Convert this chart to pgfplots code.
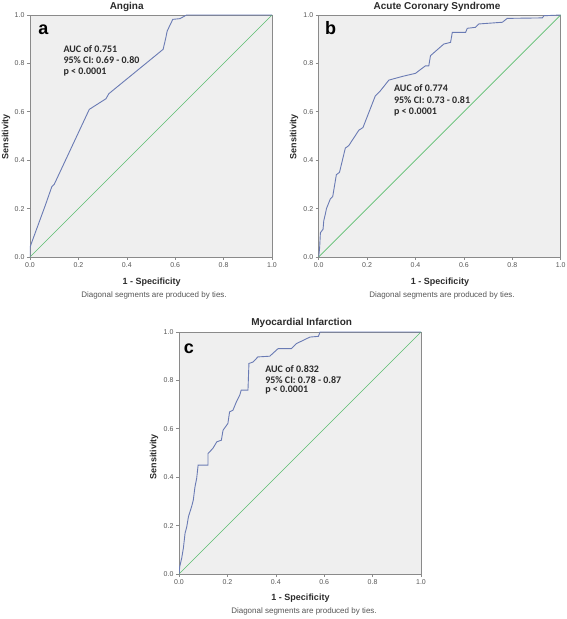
\documentclass[border=0pt]{standalone}
\usepackage{fontspec}
\setmainfont{Liberation Sans}
\newfontfamily\annfont{Carlito}
\usepackage{pgfplots}
\pgfplotsset{compat=1.18}
\definecolor{roc}{HTML}{6A7BB4}
\definecolor{diagc}{HTML}{5BBD6E}
\definecolor{framec}{HTML}{8A8A8A}
\definecolor{bgc}{HTML}{EFEFEF}
\definecolor{txt}{HTML}{2A2A2A}
\pgfplotsset{rocaxis/.style={
  scale only axis, width=242pt, height=242pt, anchor=south west,
  xmin=0, xmax=1, ymin=0, ymax=1,
  xtick={0,0.2,0.4,0.6,0.8,1}, ytick={0,0.2,0.4,0.6,0.8,1},
  xtick pos=left, ytick pos=left,
  tick align=outside, major tick length=3pt,
  tick style={framec, line width=0.6pt},
  axis line style={framec, line width=0.9pt},
  axis background/.style={fill=bgc},
  /pgf/number format/assume math mode=true,
  /pgf/number format/fixed, /pgf/number format/fixed zerofill, /pgf/number format/precision=1,
  tick label style={font=\fontsize{7}{8}\selectfont, text=txt!80},
  xticklabel style={yshift=1pt},
  yticklabel style={xshift=1pt},
}}
\tikzset{ann/.style={anchor=west, font=\annfont\bfseries\fontsize{10}{12}\selectfont, text=txt},
  xlab/.style={font=\bfseries\fontsize{9}{11}\selectfont, text=txt},
  note/.style={font=\fontsize{8}{10}\selectfont, text=txt!80},
  ttl/.style={font=\bfseries\fontsize{10}{12}\selectfont, text=txt},
  ylab/.style={rotate=90, font=\bfseries\fontsize{9}{11}\selectfont, text=txt},
  lett/.style={font=\bfseries\fontsize{18}{20}\selectfont, text=black}}
\begin{document}
\begin{tikzpicture}
\path[use as bounding box] (0pt,0pt) rectangle (567pt,619pt);
% ---- panel a
\begin{axis}[rocaxis, at={(30pt,362pt)}]
\addplot[diagc, line width=0.7pt] coordinates {(0,0) (1,1)};
\addplot[roc, line width=0.9pt] coordinates {
(0,0) (0,0.04) (0.007,0.06) (0.062,0.21) (0.09,0.29) (0.10,0.30)
(0.245,0.61) (0.314,0.654) (0.326,0.675) (0.55,0.858) (0.56,0.90)
(0.567,0.934) (0.59,0.982) (0.62,0.985) (0.647,1.0) (1,1)};
\node[ann] at (axis cs:0.124,0.861) {AUC of 0.751};
\node[ann] at (axis cs:0.124,0.813) {95\% CI: 0.69 - 0.80};
\node[ann] at (axis cs:0.124,0.765) {p < 0.0001};
\end{axis}
% ---- panel b
\begin{axis}[rocaxis, at={(318.7pt,362pt)}]
\addplot[diagc, line width=0.7pt] coordinates {(0,0) (1,1)};
\addplot[roc, line width=0.9pt] coordinates {
(0,0) (0.004,0.04) (0.007,0.10) (0.018,0.115) (0.021,0.15) (0.028,0.18)
(0.032,0.20) (0.048,0.24) (0.058,0.25) (0.073,0.34) (0.086,0.35)
(0.11,0.45) (0.124,0.46) (0.166,0.524) (0.183,0.535) (0.234,0.666)
(0.255,0.687) (0.29,0.731) (0.345,0.746) (0.40,0.759) (0.441,0.79)
(0.455,0.79) (0.462,0.832) (0.517,0.88) (0.545,0.887) (0.552,0.928)
(0.607,0.928) (0.614,0.945) (0.648,0.949) (0.662,0.963) (0.759,0.970)
(0.779,0.986) (0.924,0.988) (0.931,0.997) (1,1)};
\node[ann] at (axis cs:0.297,0.697) {AUC of 0.774};
\node[ann] at (axis cs:0.297,0.648) {95\% CI: 0.73 - 0.81};
\node[ann] at (axis cs:0.297,0.599) {p < 0.0001};
\end{axis}
% ---- panel c
\begin{axis}[rocaxis, at={(179pt,45pt)}]
\addplot[diagc, line width=0.7pt] coordinates {(0,0) (1,1)};
\addplot[roc, line width=0.9pt] coordinates {
(0,0) (0.003,0.03) (0.011,0.065) (0.018,0.106) (0.025,0.168) (0.032,0.195)
(0.039,0.237) (0.052,0.278) (0.059,0.305) (0.066,0.36) (0.073,0.395)
(0.079,0.45) (0.12,0.45) (0.12,0.498) (0.14,0.519) (0.156,0.546)
(0.175,0.553) (0.182,0.594) (0.202,0.622) (0.209,0.67) (0.223,0.677)
(0.237,0.711) (0.251,0.739) (0.257,0.76) (0.285,0.76) (0.289,0.87)
(0.306,0.876) (0.326,0.897) (0.375,0.9) (0.409,0.931) (0.464,0.931)
(0.485,0.952) (0.514,0.966) (0.541,0.979) (0.576,0.982) (0.583,1.0) (1,1)};
\node[ann] at (axis cs:0.342,0.846) {AUC of 0.832};
\node[ann] at (axis cs:0.342,0.800) {95\% CI: 0.78 - 0.87};
\node[ann] at (axis cs:0.342,0.759) {p < 0.0001};
\end{axis}
% ---- titles
\node[ttl] at (126.7pt,611.7pt) {Angina};
\node[ttl] at (437pt,612.3pt) {Acute Coronary Syndrome};
\node[ttl] at (301.7pt,296.3pt) {Myocardial Infarction};
% ---- x labels
\node[xlab] at (151.7pt,336.5pt) {1 - Specificity};
\node[xlab] at (440pt,336.5pt) {1 - Specificity};
\node[xlab] at (300.5pt,21.3pt) {1 - Specificity};
% ---- notes
\node[note] at (154pt,323.5pt) {Diagonal segments are produced by ties.};
\node[note] at (442pt,323.5pt) {Diagonal segments are produced by ties.};
\node[note] at (304pt,7.5pt) {Diagonal segments are produced by ties.};
% ---- y labels
\node[ylab] at (6pt,482.3pt) {Sensitivity};
\node[ylab] at (294pt,482.3pt) {Sensitivity};
\node[ylab] at (154pt,162.3pt) {Sensitivity};
% ---- panel letters
\node[lett] at (43.3pt,589pt) {a};
\node[lett] at (330.5pt,591pt) {b};
\node[lett] at (188.8pt,270pt) {c};
\end{tikzpicture}
\end{document}
